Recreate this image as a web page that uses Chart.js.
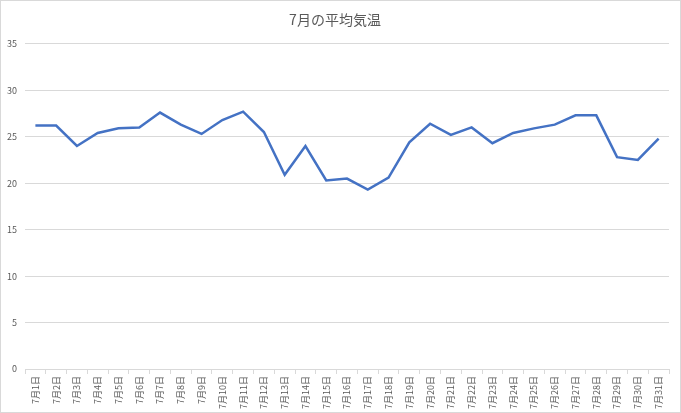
<!DOCTYPE html>
<html lang="ja">
<head>
    <meta charset="UTF-8">
    <title>7月の平均気温</title>
    <script src="https://cdn.jsdelivr.net/npm/chart.js"></script>
    <style>
        body {
            margin: 0;
            background: #ffffff;
        }
        .frame {
            width: 681px;
            height: 413px;
            box-sizing: border-box;
            border: 1px solid #d9d9d9;
        }
        canvas {
            display: block;
        }
    </style>
</head>
<body>
    <div class="frame">
        <canvas id="tempChart" width="679" height="411"></canvas>
    </div>

    <script>
        // 日付ラベル
        const days = [];
        for (let d = 1; d <= 31; d++) {
            days.push('7月' + d + '日');
        }

        // 平均気温 (℃)
        const avgTemp = [
            26.2, 26.2, 24.0, 25.4, 25.9, 26.0, 27.6, 26.3, 25.3, 26.8,
            27.7, 25.5, 20.9, 24.0, 20.3, 20.5, 19.3, 20.6, 24.4, 26.4,
            25.2, 26.0, 24.3, 25.4, 25.9, 26.3, 27.3, 27.3, 22.8, 22.5,
            24.8
        ];

        const yMin = 0;
        const yMax = 35;
        const yStep = 5;

        const textColor = '#595959';
        const gridColor = '#d9d9d9';
        const fontFamily = '"Noto Sans CJK JP", "Noto Sans", sans-serif';

        const ctx = document.getElementById('tempChart').getContext('2d');
        new Chart(ctx, {
            type: 'line',
            data: {
                labels: days,
                datasets: [{
                    label: '平均気温',
                    data: avgTemp,
                    borderColor: '#4472C4',
                    borderWidth: 2.5,
                    pointRadius: 0,
                    fill: false,
                    tension: 0
                }]
            },
            options: {
                responsive: false,
                animation: false,
                layout: {
                    padding: { left: 0, right: 11, top: 0, bottom: 0 }
                },
                plugins: {
                    legend: { display: false },
                    tooltip: { enabled: false },
                    title: {
                        display: true,
                        text: '7月の平均気温',
                        color: textColor,
                        font: { family: fontFamily, size: 14, weight: 'normal' },
                        padding: { top: 10, bottom: 16 }
                    }
                },
                scales: {
                    x: {
                        offset: true,
                        grid: {
                            offset: true,
                            drawOnChartArea: false,
                            drawTicks: true,
                            tickLength: 5,
                            color: gridColor
                        },
                        border: { display: true, color: gridColor },
                        ticks: {
                            color: textColor,
                            font: { family: fontFamily, size: 9 },
                            minRotation: 90,
                            maxRotation: 90,
                            autoSkip: false,
                            padding: 2
                        },
                        afterFit: (scale) => { scale.height = 43; }
                    },
                    y: {
                        min: yMin,
                        max: yMax,
                        ticks: {
                            stepSize: yStep,
                            color: textColor,
                            font: { family: fontFamily, size: 9 },
                            padding: 8
                        },
                        grid: {
                            color: gridColor,
                            drawTicks: false
                        },
                        border: { display: false },
                        afterFit: (scale) => { scale.width = 24; }
                    }
                }
            }
        });
    </script>
</body>
</html>
